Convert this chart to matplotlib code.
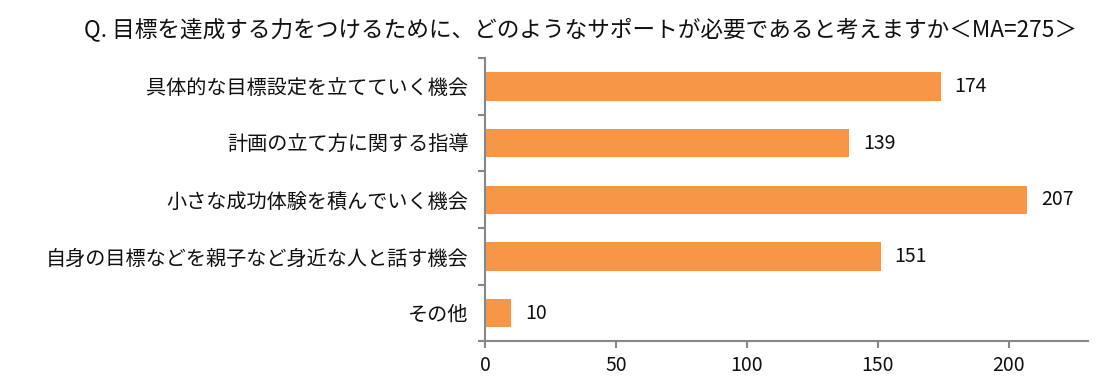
import numpy as np
import matplotlib.pyplot as plt

plt.rcParams['font.family'] = ['Noto Sans CJK JP', 'DejaVu Sans']

# chart data
title = 'Q. 目標を達成する力をつけるために、どのようなサポートが必要であると考えますか＜MA=275＞'
categories = ['具体的な目標設定を立てていく機会',
              '計画の立て方に関する指導',
              '小さな成功体験を積んでいく機会',
              '自身の目標などを親子など身近な人と話す機会',
              'その他']
counts = [174, 139, 207, 151, 10]
xticks = [0, 50, 100, 150, 200]

bar_color = '#F79646'
axis_color = '#878787'

fig = plt.figure(figsize=(11.2, 3.88), dpi=100)
ax = fig.add_axes([0.433, 0.12, 0.538, 0.73])

y = np.arange(len(categories))
ax.barh(y, counts, height=0.5, color=bar_color)

for yi, v in zip(y, counts):
    ax.annotate(str(v), (v, yi), xytext=(10, 0), textcoords='offset points',
                va='center', ha='left', fontsize=14, color='#111111')

ax.set_ylim(len(categories) - 0.5, -0.5)
ax.set_xlim(0, 230)
ax.set_yticks(y)
ax.set_yticklabels(categories, fontsize=14.5, color='#111111')
ax.set_yticks(np.arange(len(categories) + 1) - 0.5, minor=True)
ax.tick_params(axis='y', which='major', length=0, pad=12)
ax.tick_params(axis='y', which='minor', length=5, width=1.5, color=axis_color)
ax.set_xticks(xticks)
ax.tick_params(axis='x', labelsize=14, length=5, width=1.5, color=axis_color,
               labelcolor='#111111', pad=5)

for side in ['top', 'right']:
    ax.spines[side].set_visible(False)
for side in ['left', 'bottom']:
    ax.spines[side].set_color(axis_color)
    ax.spines[side].set_linewidth(1.5)

fig.text(0.518, 0.925, title, ha='center', va='center', fontsize=16.3, color='#111111')

fig.savefig('out.png', dpi=100)
